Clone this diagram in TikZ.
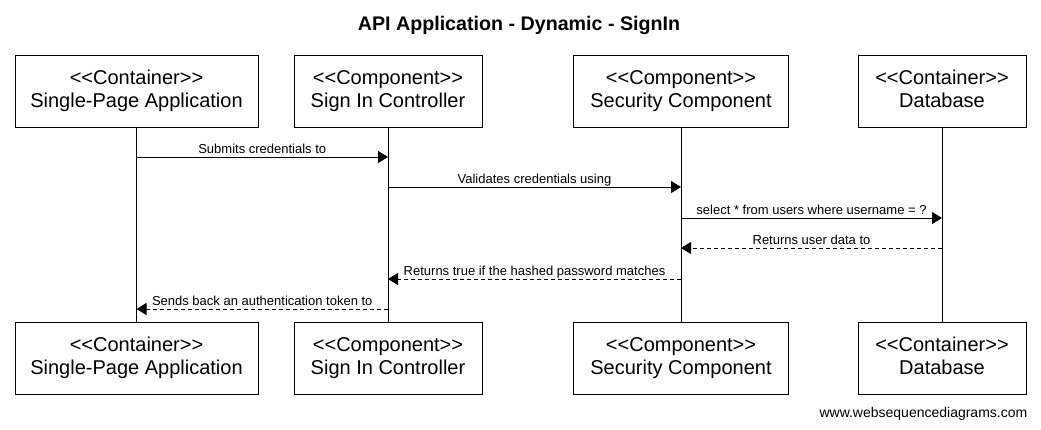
\documentclass[tikz,border=0pt]{standalone}
\usepackage{fontspec}
\setmainfont{Liberation Sans}
\usetikzlibrary{arrows.meta}

\tikzset{
  actor/.style={draw, line width=0.75pt, minimum height=54pt, inner sep=0pt,
    align=center, font=\fontsize{15}{17.25}\selectfont},
  life/.style={line width=0.75pt},
  msg/.style={line width=0.75pt, -{Triangle[length=7.5pt,width=9pt]}},
  reply/.style={msg, dash pattern=on 3pt off 2.25pt},
  lbl/.style={anchor=base, yshift=3pt, inner sep=0pt, font=\fontsize{9.75}{11}\selectfont},
}

\begin{document}
\begin{tikzpicture}[x=0.75pt, y=-0.75pt]
\useasboundingbox (0,0) rectangle (1041,429);

\node[anchor=base, font=\bfseries\fontsize{14.75}{17}\selectfont] (title) at (519,30) {API Application - Dynamic - SignIn};

% participants, top row
\node[actor, minimum width=182.25pt] (spa) at (136.5,91) {<{}<Container>{}>\strut\\Single-Page Application\strut};
\node[actor, minimum width=141pt] (sic) at (388,91) {<{}<Component>{}>\strut\\Sign In Controller\strut};
\node[actor, minimum width=161.25pt] (sec) at (681,91) {<{}<Component>{}>\strut\\Security Component\strut};
\node[actor, minimum width=126pt] (db) at (942,91) {<{}<Container>{}>\strut\\Database\strut};

% participants, bottom row
\node[actor, minimum width=182.25pt] (spa-b) at (136.5,358) {<{}<Container>{}>\strut\\Single-Page Application\strut};
\node[actor, minimum width=141pt] (sic-b) at (388,358) {<{}<Component>{}>\strut\\Sign In Controller\strut};
\node[actor, minimum width=161.25pt] (sec-b) at (681,358) {<{}<Component>{}>\strut\\Security Component\strut};
\node[actor, minimum width=126pt] (db-b) at (942,358) {<{}<Container>{}>\strut\\Database\strut};

% lifelines
\draw[life] (spa.south) -- (spa-b.north);
\draw[life] (sic.south) -- (sic-b.north);
\draw[life] (sec.south) -- (sec-b.north);
\draw[life] (db.south) -- (db-b.north);

% message points
\coordinate (spa1) at (spa.south |- 0,157);
\coordinate (sic1) at (sic.south |- 0,157);
\coordinate (sic2) at (sic.south |- 0,187);
\coordinate (sec2) at (sec.south |- 0,187);
\coordinate (sec3) at (sec.south |- 0,218);
\coordinate (db3) at (db.south |- 0,218);
\coordinate (db4) at (db.south |- 0,248);
\coordinate (sec4) at (sec.south |- 0,248);
\coordinate (sec5) at (sec.south |- 0,279);
\coordinate (sic5) at (sic.south |- 0,279);
\coordinate (sic6) at (sic.south |- 0,309);
\coordinate (spa6) at (spa.south |- 0,309);

% messages
\draw[msg] (spa1) -- node[lbl] {Submits credentials to} (sic1);
\draw[msg] (sic2) -- node[lbl] {Validates credentials using} (sec2);
\draw[msg] (sec3) -- node[lbl] {select * from users where username = ?} (db3);
\draw[reply] (db4) -- node[lbl] {Returns user data to} (sec4);
\draw[reply] (sec5) -- node[lbl] {Returns true if the hashed password matches} (sic5);
\draw[reply] (sic6) -- node[lbl] {Sends back an authentication token to} (spa6);

\node[anchor=base east, font=\fontsize{10.5}{12}\selectfont] (site) at (1032,417) {www.websequencediagrams.com};

\end{tikzpicture}
\end{document}
